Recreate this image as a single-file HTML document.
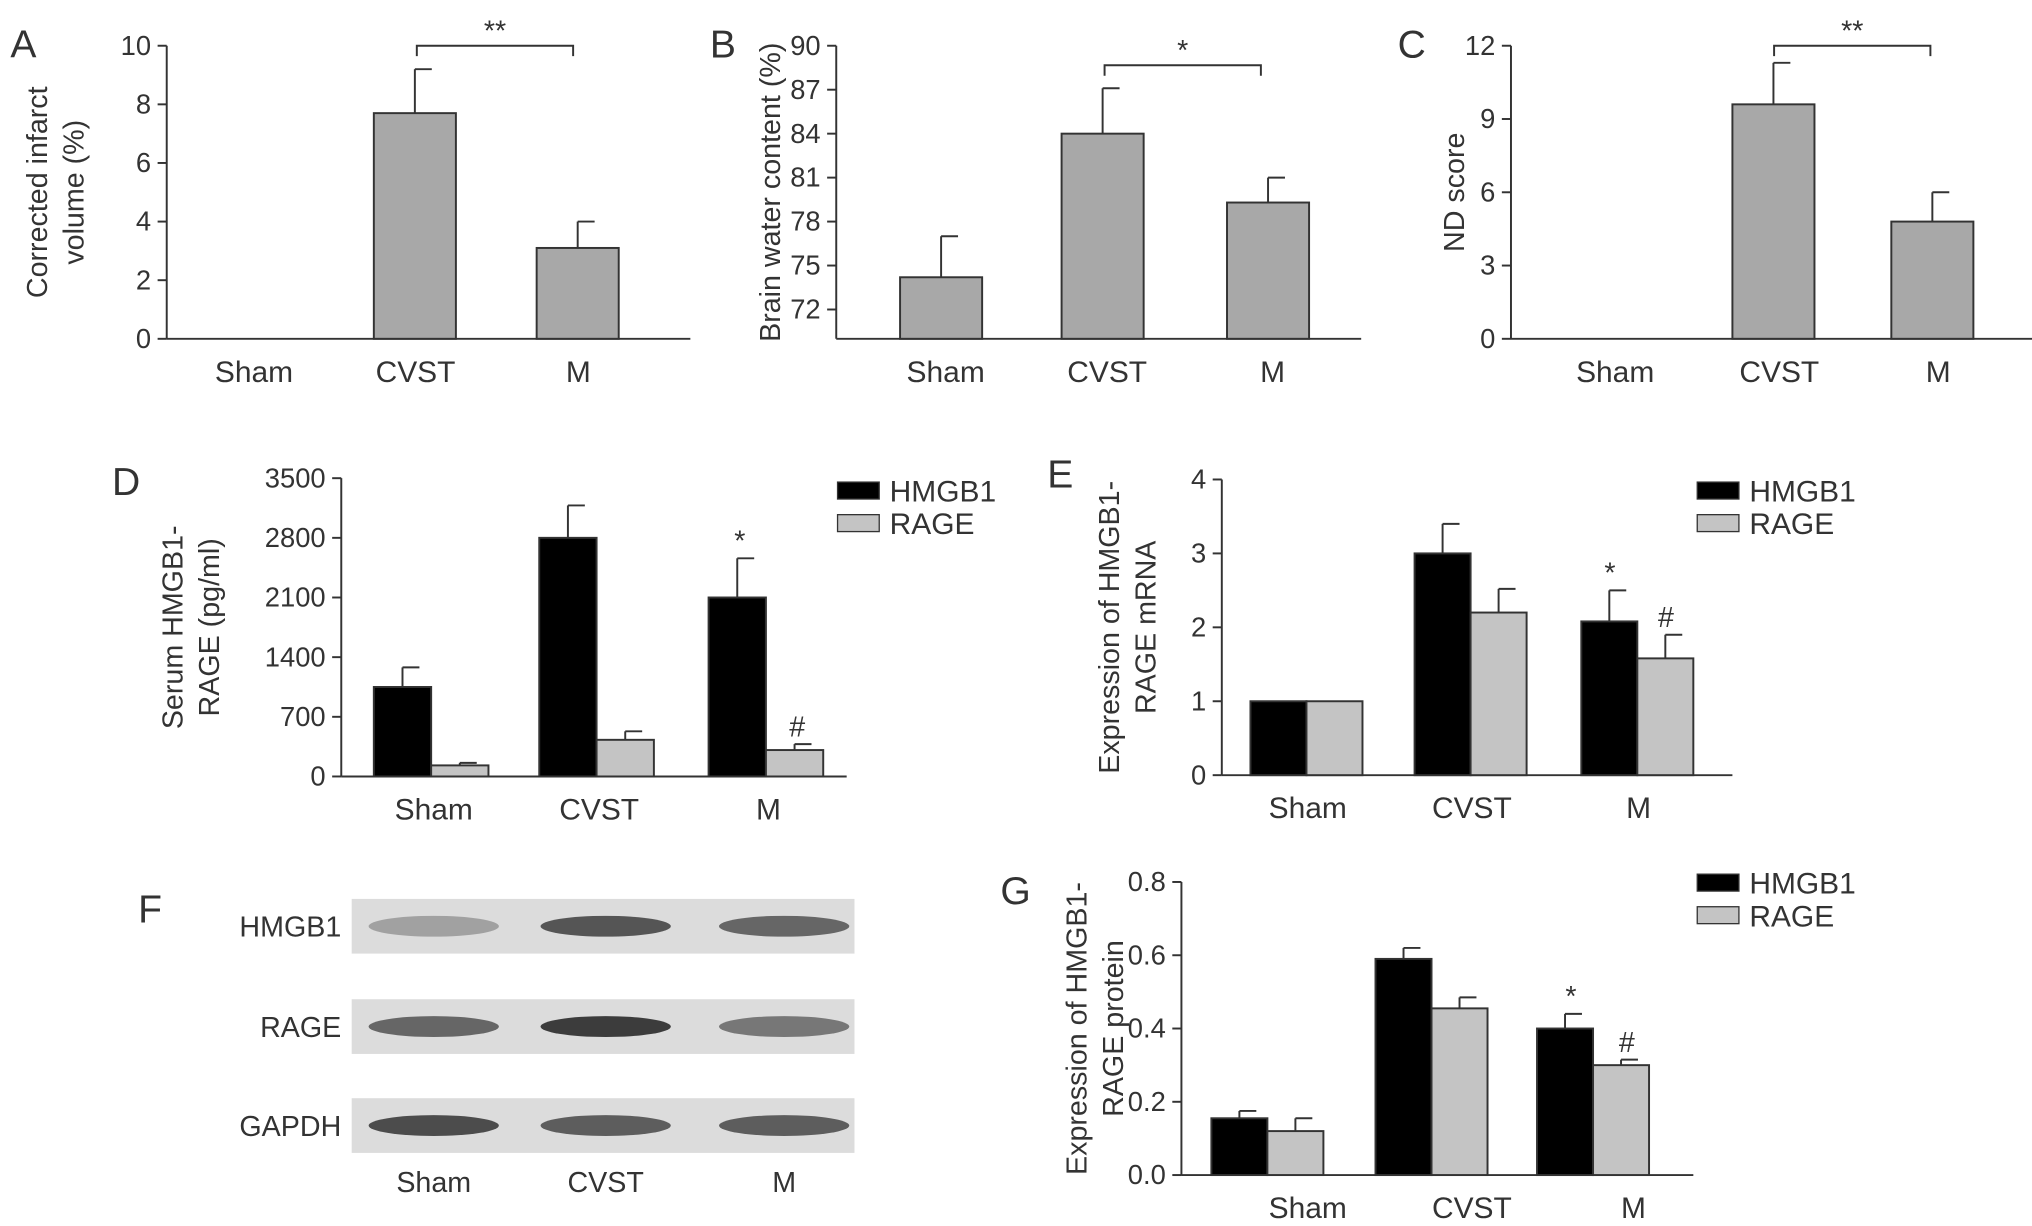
<!DOCTYPE html>
<html><head><meta charset="utf-8"><style>
html,body{margin:0;padding:0;background:#fff;}
svg{display:block;}
text{font-family:"Liberation Sans",sans-serif;fill:#333;}
</style></head><body>
<svg id="fig" width="2032" height="1226" viewBox="0 0 1560 941" xmlns="http://www.w3.org/2000/svg">
<g font-size="30">
<text x="8" y="44">A</text><text x="545" y="44">B</text><text x="1073" y="44">C</text>
<text x="86" y="380">D</text><text x="804" y="374">E</text><text x="106" y="708">F</text><text x="768" y="694">G</text>
</g>
<g id="blot"></g>
</svg>
<script>
// Panel A
const catsABC = ["Sham","CVST","M"];
const valsA = [0, 7.7, 3.1];
const errA = [0, 9.2, 4.0];
const ticksA = [0,2,4,6,8,10];
// Panel B
const valsB = [74.2, 84.0, 79.3];
const errB = [77.0, 87.1, 81.0];
const ticksB = [72,75,78,81,84,87,90];
// Panel C
const valsC = [0, 9.6, 4.8];
const errC = [0, 11.3, 6.0];
const ticksC = [0,3,6,9,12];
// Panel D
const hmgbD = [1050, 2800, 2100];
const hmgbDErr = [1280, 3180, 2560];
const rageD = [130, 430, 310];
const rageDErr = [160, 530, 380];
const ticksD = [0,700,1400,2100,2800,3500];
// Panel E
const hmgbE = [1.0, 3.0, 2.08];
const hmgbEErr = [1.0, 3.4, 2.5];
const rageE = [1.0, 2.2, 1.58];
const rageEErr = [1.0, 2.52, 1.9];
const ticksE = [0,1,2,3,4];
// Panel G
const hmgbG = [0.155, 0.59, 0.40];
const hmgbGErr = [0.175, 0.62, 0.44];
const rageG = [0.12, 0.455, 0.30];
const rageGErr = [0.155, 0.485, 0.315];
const ticksG = [0.0,0.2,0.4,0.6,0.8];
const ticksGLabels = ["0.0","0.2","0.4","0.6","0.8"];
const seriesNames = ["HMGB1","RAGE"];

const NS="http://www.w3.org/2000/svg";
const svg=document.getElementById('fig');
function mk(tag,attrs,parent,txt){const e=document.createElementNS(NS,tag);for(const k in attrs)e.setAttribute(k,attrs[k]);if(txt!==undefined)e.textContent=txt;(parent||svg).appendChild(e);return e;}

function panel(cfg){
  const g=mk('g',{});
  
  
  const y=v=>cfg.y1-(v-cfg.min)/(cfg.max-cfg.min)*(cfg.y1-cfg.y0);
  const ax=mk('g',{},g);
  
  
  mk('line',{x1:cfg.x0,x2:cfg.x0,y1:cfg.y0,y2:cfg.y1,stroke:'#333','stroke-width':1.5},ax);
  cfg.ticks.forEach((t,i)=>{
    mk('line',{x1:cfg.x0-7,x2:cfg.x0,y1:y(t),y2:y(t),stroke:'#333','stroke-width':1.5},ax);
    const tl=mk('text',{x:cfg.x0-12,y:y(t)+7,'font-size':21,'text-anchor':'end'},ax,cfg.tickLabels?cfg.tickLabels[i]:t);
    
    
  });
  const xa=mk('line',{x1:cfg.x0,x2:cfg.x2,y1:cfg.y1,y2:cfg.y1,stroke:'#333','stroke-width':1.5},g);
  
  
  cfg.cats.forEach((c,i)=>{
    const t=mk('text',{x:cfg.catX[i],y:cfg.y1+33,'font-size':23,'text-anchor':'middle'},g,c);
    
    
  });
  const yl=mk('text',{transform:`translate(${cfg.ylx},${(cfg.y0+cfg.y1)/2}) rotate(-90)`,'font-size':22,'text-anchor':'middle'},g);
  
  
  cfg.ylabel.forEach((l,i)=>mk('tspan',{x:0,dy:i?28:(cfg.ylabel.length>1?-14:0)},yl,l));
  cfg.series.forEach((s,si)=>{
    s.vals.forEach((v,i)=>{
      const x=cfg.catX[i]+s.off;
      if(v>cfg.min){
        const top=y(v),et=y(s.err[i]);
        if(s.err[i]>v){
          const e=mk('line',{x1:x+s.w/2,x2:x+s.w/2,y1:et,y2:top,stroke:'#333','stroke-width':1.5},g);
          
          
          mk('line',{x1:x+s.w/2,x2:x+s.w/2+13,y1:et,y2:et,stroke:'#333','stroke-width':1.5},g);
        }
        const r=mk('rect',{x:x,y:top,width:s.w,height:cfg.y1-top,fill:s.fill,stroke:'#333','stroke-width':1.5},g);
        
        
      }
    });
  });
  if(cfg.legend){
    cfg.series.forEach((s,si)=>{
      const ly=cfg.legend[1]+si*25;
      const lr=mk('rect',{x:cfg.legend[0],y:ly-13,width:32,height:13,fill:s.fill,stroke:'#333','stroke-width':1},g);
      
      
      const lt=mk('text',{x:cfg.legend[0]+40,y:ly+2,'font-size':23},g,seriesNames[si]);
      
      
    });
  }
  (cfg.marks||[]).forEach(m=>{
    const t=mk('text',{x:m[0],y:y(m[1])-6,'font-size':22,'text-anchor':'middle'},g,m[2]);
    
    
  });
  if(cfg.bracket){
    const b=cfg.bracket;
    const p=mk('path',{d:`M${b[0]},${b[2]+8}V${b[2]}H${b[1]}V${b[2]+8}`,fill:'none',stroke:'#333','stroke-width':1.5},g);
    
    
    const t=mk('text',{x:(b[0]+b[1])/2,y:b[2]-4,'font-size':22,'text-anchor':'middle'},g,b[3]);
    
    
  }
}
const GRAY='#a8a8a8', BLK='#000', LG='#c4c4c4';
panel({name:'chart-a',x0:128,x2:530,y0:35,y1:260,min:0,max:10,ticks:ticksA,cats:catsABC,catX:[195,319,444],ylx:50,ylabel:['Corrected infarct','volume (%)'],
  series:[{name:'mean',vals:valsA,err:errA,off:-32,w:63,fill:GRAY}],bracket:[320,440,35,'**']});
panel({name:'chart-b',x0:642,x2:1045,y0:35,y1:260,min:70,max:90,ticks:ticksB,cats:catsABC,catX:[726,850,977],ylx:599,ylabel:['Brain water content (%)'],
  series:[{name:'mean',vals:valsB,err:errB,off:-35,w:63,fill:GRAY}],bracket:[848,968,50,'*']});
panel({name:'chart-c',x0:1160,x2:1560,y0:35,y1:260,min:0,max:12,ticks:ticksC,cats:catsABC,catX:[1240,1366,1488],ylx:1124,ylabel:['ND score'],
  series:[{name:'mean',vals:valsC,err:errC,off:-36,w:63,fill:GRAY}],bracket:[1362,1482,35,'**']});
panel({name:'chart-d',x0:262,x2:650,y0:367,y1:596,min:0,max:3500,ticks:ticksD,cats:catsABC,catX:[333,460,590],ylx:154,ylabel:['Serum HMGB1-','RAGE (pg/ml)'],
  series:[{name:'hmgb1',vals:hmgbD,err:hmgbDErr,off:-46,w:44,fill:BLK},{name:'rage',vals:rageD,err:rageDErr,off:-2,w:44,fill:LG}],
  legend:[643,383],marks:[[568,2560,'*'],[612,380,'#']]});
panel({name:'chart-e',x0:938,x2:1330,y0:368,y1:595,min:0,max:4,ticks:ticksE,cats:catsABC,catX:[1004,1130,1258],ylx:873,ylabel:['Expression of HMGB1-','RAGE mRNA'],
  series:[{name:'hmgb1',vals:hmgbE,err:hmgbEErr,off:-44,w:43,fill:BLK},{name:'rage',vals:rageE,err:rageEErr,off:-1,w:43,fill:LG}],
  legend:[1303,383],marks:[[1236,2.5,'*'],[1279,1.9,'#']]});
panel({name:'chart-g',x0:907,x2:1300,y0:677,y1:902,min:0,max:0.8,ticks:ticksG,tickLabels:ticksGLabels,cats:catsABC,catX:[1004,1130,1254],ylx:848,ylabel:['Expression of HMGB1-','RAGE protein'],
  series:[{name:'hmgb1',vals:hmgbG,err:hmgbGErr,off:-74,w:43,fill:BLK},{name:'rage',vals:rageG,err:rageGErr,off:-31,w:43,fill:LG}],
  legend:[1303,684],marks:[[1206,0.44,'*'],[1249,0.315,'#']]});

// Panel F: western blot
const blot=document.getElementById('blot');
const blotRows=["HMGB1","RAGE","GAPDH"];
const blotLanes=["Sham","CVST","M"];
const bandIntensity=[[0.35,0.8,0.7],[0.7,0.95,0.6],[0.85,0.75,0.75]];
const rowY=[711,788,864], laneX=[333,465,602];
blotRows.forEach((r,ri)=>{
  const s=mk('rect',{x:270,y:rowY[ri]-21,width:386,height:42,fill:'#dcdcdc'},blot);
  
  
  const t=mk('text',{x:262,y:rowY[ri]+8,'font-size':22,'text-anchor':'end'},blot,r);
  
  
  laneX.forEach((x,li)=>{
    const b=mk('ellipse',{cx:x,cy:rowY[ri],rx:50,ry:8,fill:'#333','fill-opacity':bandIntensity[ri][li]},blot);
    
    
  });
});
blotLanes.forEach((l,i)=>{
  const t=mk('text',{x:laneX[i],y:915,'font-size':22,'text-anchor':'middle'},blot,l);
  
  
});
</script>
</body></html>
